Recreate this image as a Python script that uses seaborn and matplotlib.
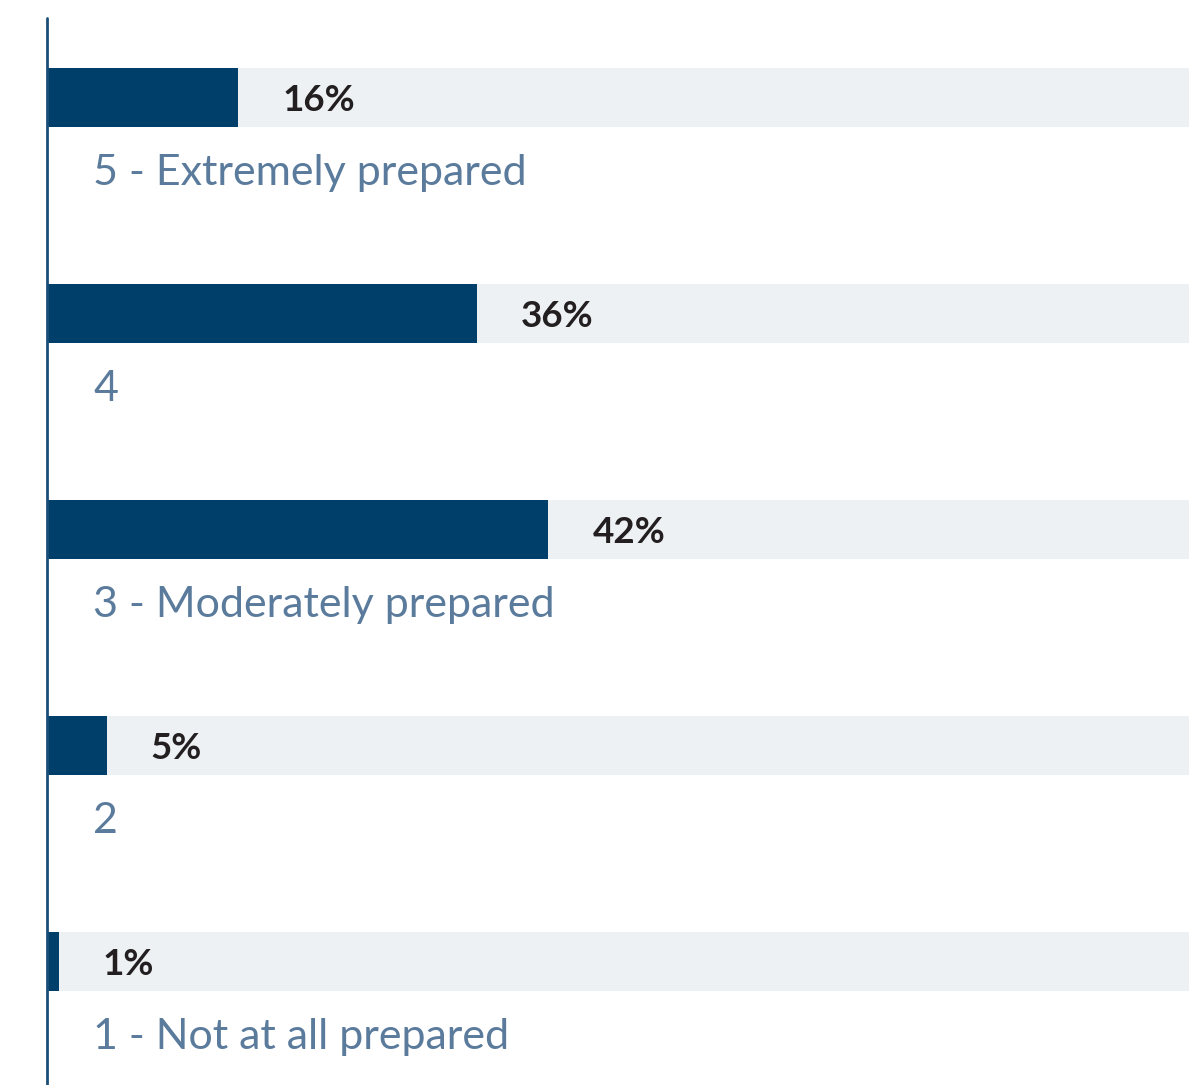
import matplotlib
matplotlib.use("Agg")
import matplotlib.pyplot as plt
import seaborn as sns
import pandas as pd

categories = ["5 - Extremely prepared", "4", "3 - Moderately prepared", "2", "1 - Not at all prepared"]
values = [16, 36, 42, 5, 1]
track = [100, 100, 100, 100, 100]

BAR = "#003f69"
TRACK = "#edf1f4"
LABEL = "#5b7b9c"
VALUE = "#231f20"
AXIS = "#1b4f78"

sns.set_theme(style="white")
plt.rcParams["font.family"] = ["Lato", "DejaVu Sans"]

W, H, DPI = 1189, 1085, 100
fig = plt.figure(figsize=(W / DPI, H / DPI), dpi=DPI)
ax = fig.add_axes([0, 0, 1, 1])

df = pd.DataFrame({"cat": categories, "val": values, "track": track})

sns.barplot(data=df, x="track", y="cat", orient="h", color=TRACK, width=0.275,
            saturation=1, ax=ax, linewidth=0)
sns.barplot(data=df, x="val", y="cat", orient="h", color=BAR, width=0.275,
            saturation=1, ax=ax, linewidth=0)

# pixel scale: 0% at x=47, ~11.94 px per percent; rows 216 px apart
px = 11.94
x0 = 47
ax.set_xlim(-x0 / px, (W - x0) / px)
ax.set_ylim((H - 97.5) / 216, -97.5 / 216)

for i, (cat, v) in enumerate(zip(categories, values)):
    ax.text(v + 44 / px, i, f"{v}%", ha="left", va="center_baseline",
            fontsize=26.5, fontweight="bold", color=VALUE)
    ax.text(46 / px, i + 72 / 216, cat, ha="left", va="center_baseline",
            fontsize=31, color=LABEL)

ax.axvline(0, ymin=0, ymax=1 - 18 / H, color=AXIS, lw=2.0)

ax.set_axis_off()
fig.savefig("out.png", dpi=DPI)
